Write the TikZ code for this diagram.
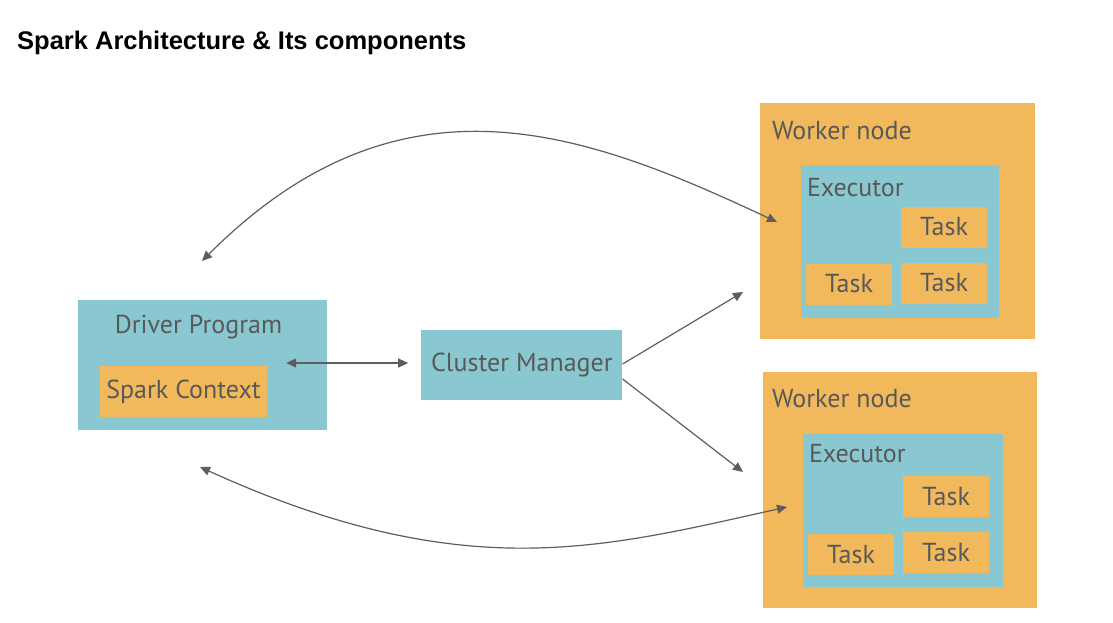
\documentclass[tikz,border=0pt]{standalone}
\usepackage{fontspec}
\setmainfont{PT Sans}
\newfontfamily\titlefont{Liberation Sans}
\usetikzlibrary{positioning,arrows.meta}
\definecolor{boxteal}{HTML}{89C8D0}
\definecolor{boxorange}{HTML}{F1B95B}
\definecolor{txtgray}{HTML}{595959}
\definecolor{arrgray}{HTML}{5E5E5E}

\begin{document}
\begin{tikzpicture}[x=1pt,y=-1pt,>={Triangle[length=10pt,width=9pt]},
		every node/.style={text=txtgray,font=\fontsize{26}{30}\selectfont},
		tealbox/.style={fill=boxteal,inner sep=0pt},
		orangebox/.style={fill=boxorange,inner sep=0pt},
		taskbox/.style={orangebox,minimum width=86pt,minimum height=41pt},
		boxlabel/.style={anchor=base west,inner sep=0pt},
		link/.style={draw=arrgray,line width=1.2pt}]
			\useasboundingbox (0,0) rectangle (1113,622);
			\node[boxlabel,text=black,font=\titlefont\bfseries\fontsize{25.5}{30}\selectfont] (title) at (17,49) {Spark Architecture \& Its components};

			\node[tealbox,minimum width=249pt,minimum height=130pt] (drv) at (202.5,365) {};
			\node[anchor=base,inner sep=0pt] (drvl) at ([xshift=-4pt,yshift=-34pt]drv.north) {Driver Program};
			\node[orangebox,minimum width=167pt,minimum height=51pt] (sc) at (183.5,391.5) {Spark Context};
			\node[tealbox,minimum width=201pt,minimum height=70pt] (cm) [right=94pt of drv] {Cluster Manager};

			\node[orangebox,minimum width=275pt,minimum height=236pt] (wn1) at (897.5,221) {};
			\node[boxlabel] (wn1l) at ([shift={(12pt,-37pt)}]wn1.north west) {Worker node};
			\node[tealbox,minimum width=198pt,minimum height=153pt] (ex1) at (900,241.5) {};
			\node[boxlabel] (ex1l) at ([shift={(6pt,-32pt)}]ex1.north west) {Executor};
			\node[taskbox] (t11) at (944,227) {Task};
			\node[taskbox] (t12) at (849,284) {Task};
			\node[taskbox] (t13) at (944,283) {Task};

			\node[orangebox,minimum width=274pt,minimum height=236pt] (wn2) at (900,490) {};
			\node[boxlabel] (wn2l) at ([shift={(9pt,-36pt)}]wn2.north west) {Worker node};
			\node[tealbox,minimum width=200pt,minimum height=153pt] (ex2) at (903,510.5) {};
			\node[boxlabel] (ex2l) at ([shift={(6pt,-29pt)}]ex2.north west) {Executor};
			\node[taskbox] (t21) at (946,496.5) {Task};
			\node[taskbox] (t22) at (851,554.5) {Task};
			\node[taskbox] (t23) at (946,552.5) {Task};

			\coordinate (drvin) at ([xshift=-41pt,yshift=2pt]drv.east);
			\coordinate (cmin) at ([xshift=-13pt,yshift=2pt]cm.west);
			\coordinate (wn1in) at (743,292);
			\coordinate (wn2in) at (743,472);
			\coordinate (drvtop) at (202,261);
			\coordinate (wn1top) at (777,222);
			\coordinate (drvbot) at (200,467);
			\coordinate (wn2bot) at (787,507);

			\draw[link,<->] (drvin) -- (cmin);
			\draw[link,->] ([yshift=1pt]cm.east) -- (wn1in);
			\draw[link,->] ([yshift=-14pt]cm.east) -- (wn2in);
			\draw[link,<->] (drvtop) .. controls (402,61) and (587,133) .. (wn1top);
			\draw[link,<->] (drvbot) .. controls (464,587) and (602,548) .. (wn2bot);
\end{tikzpicture}
\end{document}
